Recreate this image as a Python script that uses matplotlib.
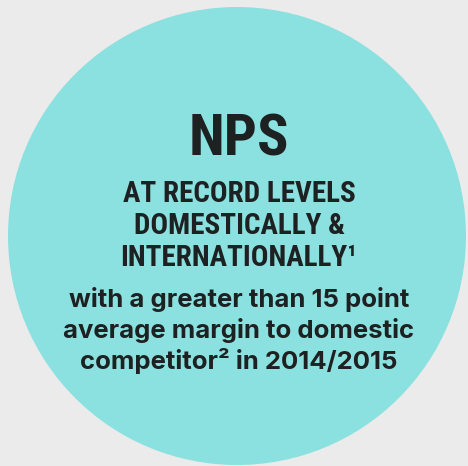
import matplotlib
matplotlib.use('Agg')
import matplotlib.pyplot as plt
from matplotlib.patches import Circle

# text content
headline = 'NPS'
caps_lines = ['AT RECORD LEVELS', 'DOMESTICALLY &', 'INTERNATIONALLY\u00b9']
body_lines = ['with a greater than 15 point',
              'average margin to domestic',
              'competitor\u00b2 in 2014/2015']

# colours
bg_color = '#ebebeb'
circle_color = '#8be1df'
text_color = '#1e2122'

W, H = 468, 466
fig = plt.figure(figsize=(W / 100, H / 100), dpi=100, facecolor=bg_color)
ax = fig.add_axes([0, 0, 1, 1])
ax.set_xlim(0, W)
ax.set_ylim(H, 0)
ax.set_axis_off()
ax.set_facecolor(bg_color)

ax.add_patch(Circle((237, 236), 229, facecolor=circle_color, edgecolor='none'))

narrow = ['Roboto Condensed', 'Liberation Sans Narrow', 'DejaVu Sans']
cx = 239

ax.text(cx, 155, headline, ha='center', va='baseline', fontsize=42,
        fontweight='bold', family=narrow, fontstretch='condensed', color=text_color)

caps_y = [202, 234, 266]
for y, s in zip(caps_y, caps_lines):
    ax.text(cx, y, s, ha='center', va='baseline', fontsize=21,
            fontweight='bold', family=narrow, fontstretch='condensed', color=text_color)

body_y = [307, 338, 369]
for y, s in zip(body_y, body_lines):
    ax.text(cx, y, s, ha='center', va='baseline', fontsize=18.5,
            fontweight='bold', family=['Inter', 'DejaVu Sans'], color=text_color)

fig.savefig('out.png', dpi=100, facecolor=bg_color)
